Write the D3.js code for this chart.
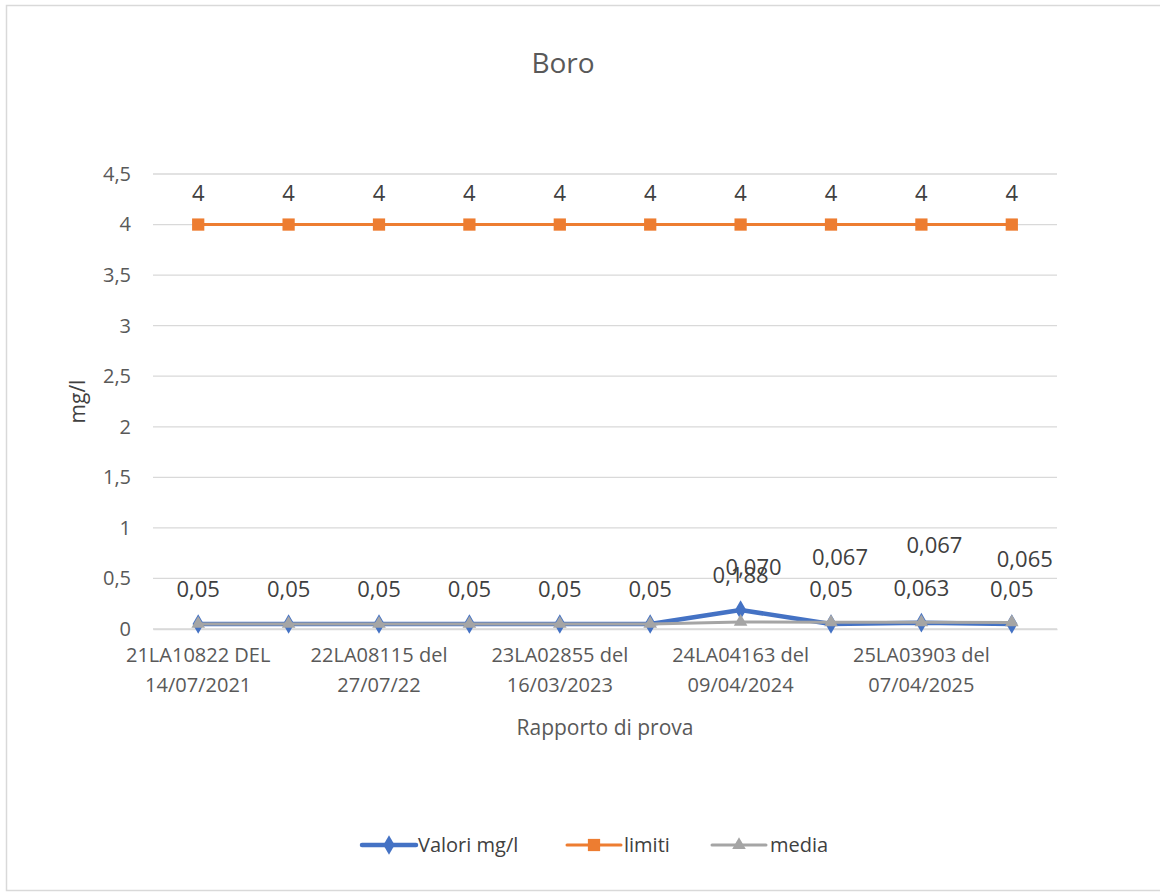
<!DOCTYPE html>
<html>
<head>
<meta charset="utf-8">
<script src="https://cdn.jsdelivr.net/npm/d3@7"></script>
<style>
  body { margin: 0; background: #fff; }
  svg { font-family: "Open Sans", sans-serif; }
</style>
</head>
<body>
<svg id="chart" width="1160" height="893"></svg>
<script>
// category names (only every other one is printed on the axis, as in the source)
const categories = [
  "21LA10822 DEL 14/07/2021", "rapporto 2",
  "22LA08115 del 27/07/22", "rapporto 4",
  "23LA02855 del 16/03/2023", "rapporto 6",
  "24LA04163 del 09/04/2024", "rapporto 8",
  "25LA03903 del 07/04/2025", "rapporto 10"
];
const valori = [0.05, 0.05, 0.05, 0.05, 0.05, 0.05, 0.188, 0.05, 0.063, 0.05];
const limiti = [4, 4, 4, 4, 4, 4, 4, 4, 4, 4];
const media = [0.05, 0.05, 0.05, 0.05, 0.05, 0.05, 0.070, 0.067, 0.067, 0.065];
const yTicks = [0, 0.5, 1, 1.5, 2, 2.5, 3, 3.5, 4, 4.5];

// media labels: first six sit under the valori ones, the rest were moved by hand
const mediaNudge = [null, null, null, null, null, null, [13, -20], [9, -30], [13, -42], [13, -28]];

const fmt = v => String(v).replace(".", ",");
const fmt3 = v => v === 0.05 ? "0,05" : v.toFixed(3).replace(".", ",");

const svg = d3.select("#chart");
const dims = { left: 153, right: 1057, top: 174, bottom: 629 };

svg.append("rect")
  .attr("x", 6.5).attr("y", 5.5)
  .attr("width", 1160).attr("height", 885)
  .attr("fill", "#fff").attr("stroke", "#d9d9d9").attr("stroke-width", 1.5);

const x = d3.scaleBand().domain(d3.range(categories.length))
  .range([dims.left, dims.right]);
const cx = i => x(i) + x.bandwidth() / 2;
const y = d3.scaleLinear().domain([0, 4.5]).range([dims.bottom, dims.top]);

// title
svg.append("text")
  .attr("x", 563).attr("y", 73)
  .attr("text-anchor", "middle")
  .attr("font-size", 28).attr("fill", "#595959")
  .text("Boro");

// gridlines
svg.append("g")
  .selectAll("line")
  .data(yTicks)
  .join("line")
  .attr("x1", dims.left).attr("x2", dims.right)
  .attr("y1", d => y(d)).attr("y2", d => y(d))
  .attr("stroke", "#d9d9d9").attr("stroke-width", 1.3);

// y axis
const yAxis = svg.append("g")
  .attr("transform", `translate(${dims.left - 16},0)`)
  .call(d3.axisLeft(y).tickValues(yTicks).tickFormat(fmt).tickSize(0).tickPadding(6));
yAxis.select(".domain").remove();
yAxis.selectAll("text")
  .attr("font-size", 20).attr("fill", "#595959")
  .attr("font-family", "'Open Sans', sans-serif");

svg.append("text")
  .attr("transform", `translate(85,${(dims.top + dims.bottom) / 2}) rotate(-90)`)
  .attr("text-anchor", "middle")
  .attr("font-size", 21).attr("fill", "#404040")
  .text("mg/l");

// x axis
const xAxis = svg.append("g")
  .attr("transform", `translate(0,${dims.bottom})`)
  .call(d3.axisBottom(x).tickValues(d3.range(0, categories.length, 2)).tickSize(0).tickFormat(""));
xAxis.select(".domain").attr("stroke", "#d9d9d9").attr("stroke-width", 1.3);
xAxis.selectAll(".tick").each(function (i) {
  const name = categories[i];
  const cut = name.lastIndexOf(" ");
  const t = d3.select(this).append("text")
    .attr("text-anchor", "middle")
    .attr("font-size", 20).attr("fill", "#595959")
    .attr("font-family", "'Open Sans', sans-serif");
  t.append("tspan").attr("x", 0).attr("y", 33).text(name.slice(0, cut));
  t.append("tspan").attr("x", 0).attr("y", 63).text(name.slice(cut + 1));
});

svg.append("text")
  .attr("x", (dims.left + dims.right) / 2).attr("y", 735)
  .attr("text-anchor", "middle")
  .attr("font-size", 21).attr("fill", "#595959")
  .text("Rapporto di prova");

// series
const series = [
  { name: "Valori mg/l", values: valori, color: "#4472c4", width: 4.5, marker: d3.symbolDiamond, size: 110 },
  { name: "limiti", values: limiti, color: "#ed7d31", width: 3, marker: d3.symbolSquare, size: 150 },
  { name: "media", values: media, color: "#a5a5a5", width: 3, marker: d3.symbolTriangle, size: 80 }
];

const line = d3.line().x((d, i) => cx(i)).y(d => y(d));

const gSeries = svg.append("g");
series.forEach(s => {
  const g = gSeries.append("g");
  g.append("path")
    .attr("d", line(s.values))
    .attr("fill", "none")
    .attr("stroke", s.color)
    .attr("stroke-width", s.width)
    .attr("stroke-linejoin", "round");
  g.selectAll("path.marker")
    .data(s.values)
    .join("path")
    .attr("class", "marker")
    .attr("transform", (d, i) => `translate(${cx(i)},${y(d)})`)
    .attr("d", d3.symbol().type(s.marker).size(s.size))
    .attr("fill", s.color);
});

// data labels
const gLabels = svg.append("g")
  .attr("text-anchor", "middle")
  .attr("font-size", 22)
  .attr("fill", "#404040");

gLabels.selectAll("text.lim")
  .data(limiti)
  .join("text")
  .attr("class", "lim")
  .attr("x", (d, i) => cx(i))
  .attr("y", d => y(d) - 24)
  .text(fmt);

gLabels.selectAll("text.val")
  .data(valori)
  .join("text")
  .attr("class", "val")
  .attr("x", (d, i) => cx(i))
  .attr("y", d => y(d) - 27)
  .text(fmt3);

gLabels.selectAll("text.med")
  .data(media.map((v, i) => ({ v, i })).filter(d => mediaNudge[d.i]))
  .join("text")
  .attr("class", "med")
  .attr("x", d => cx(d.i) + mediaNudge[d.i][0])
  .attr("y", d => y(d.v) - 27 + mediaNudge[d.i][1])
  .text(d => fmt3(d.v));

// legend
const legendItems = [
  { s: series[0], x: 362, tx: 418 },
  { s: series[1], x: 567, tx: 624 },
  { s: series[2], x: 712, tx: 770 }
];
const gLegend = svg.append("g").attr("transform", "translate(0,845)");
legendItems.forEach(({ s, x: lx, tx }) => {
  gLegend.append("line")
    .attr("x1", lx).attr("x2", lx + 54)
    .attr("stroke", s.color).attr("stroke-width", s.width)
    .attr("stroke-linecap", "round");
  gLegend.append("path")
    .attr("transform", `translate(${lx + 27},0)`)
    .attr("d", d3.symbol().type(s.marker).size(s.size))
    .attr("fill", s.color);
  gLegend.append("text")
    .attr("x", tx).attr("y", 7)
    .attr("font-size", 20).attr("fill", "#404040")
    .text(s.name);
});
</script>
</body>
</html>
